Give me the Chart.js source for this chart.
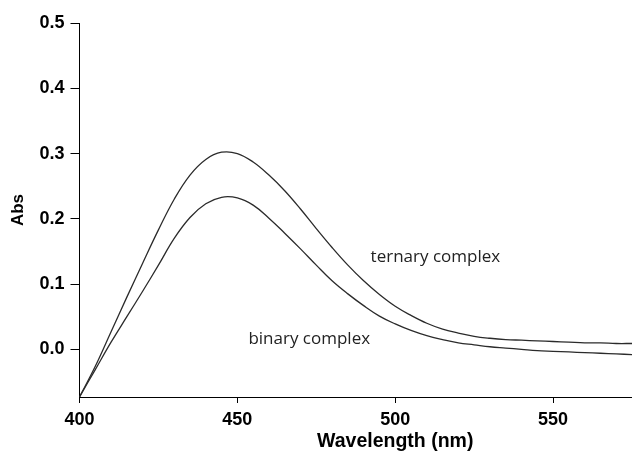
<!DOCTYPE html>
<html>
<head>
<meta charset="utf-8">
<script src="https://cdn.jsdelivr.net/npm/chart.js@4.4.0/dist/chart.umd.min.js"></script>
<style>
    html, body { margin: 0; padding: 0; background: #fff; overflow: hidden; }
    #wrap { width: 632px; height: 451px; }
</style>
</head>
<body>
<div id="wrap"><canvas id="absChart" width="632" height="451"></canvas></div>
<script>
// Spectra (nm, Abs)
const wavelengths = [400, 405, 410, 415, 420, 425, 430, 435, 440, 445, 450, 455, 460, 465, 470, 475, 480, 485, 490, 495,
    500, 505, 510, 515, 520, 525, 530, 535, 540, 545, 550, 555, 560, 565, 570, 575];
const ternaryAbs = [-0.073, -0.026, 0.027, 0.080, 0.132, 0.183, 0.230, 0.267, 0.291, 0.302, 0.300, 0.287, 0.267, 0.243, 0.215, 0.185, 0.156, 0.129, 0.105, 0.084,
    0.066, 0.052, 0.040, 0.031, 0.025, 0.020, 0.017, 0.015, 0.014, 0.013, 0.012, 0.011, 0.010, 0.010, 0.009, 0.009];
const binaryAbs = [-0.073, -0.031, 0.011, 0.050, 0.089, 0.129, 0.170, 0.202, 0.223, 0.233, 0.232, 0.221, 0.201, 0.178, 0.154, 0.129, 0.105, 0.085, 0.067, 0.051,
    0.039, 0.029, 0.021, 0.015, 0.010, 0.007, 0.004, 0.002, 0.000, -0.002, -0.003, -0.004, -0.005, -0.006, -0.007, -0.008];

const xTicks = [400, 450, 500, 550];
const yTicks = [0.0, 0.1, 0.2, 0.3, 0.4, 0.5];

const xTitle = 'Wavelength (nm)';
const yTitle = 'Abs';
const ternaryText = 'ternary complex';
const binaryText = 'binary complex';

const toPoints = (ys) => wavelengths.map((x, i) => ({ x: x, y: ys[i] }));

// curve captions and the x title, placed through the scales
const captionPlugin = {
    id: 'captions',
    afterDraw(chart) {
        const { ctx, scales } = chart;
        const x = scales.x, y = scales.y;
        ctx.save();
        ctx.fillStyle = '#222';
        ctx.textAlign = 'left';
        ctx.textBaseline = 'middle';
        ctx.font = '17px "Open Sans"';
        ctx.fillText(ternaryText, x.getPixelForValue(492.2), y.getPixelForValue(0.141));
        ctx.fillText(binaryText, x.getPixelForValue(453.5), y.getPixelForValue(0.015));

        ctx.fillStyle = '#000';
        ctx.textAlign = 'center';
        ctx.textBaseline = 'alphabetic';
        ctx.font = 'bold 19.5px "Liberation Sans", Arial';
        ctx.fillText(xTitle, x.getPixelForValue(500), 447);
        ctx.restore();
    }
};

const tickFont = { family: '"Liberation Sans", Arial', size: 18, weight: 'bold' };

new Chart(document.getElementById('absChart'), {
    type: 'line',
    data: {
        datasets: [
            {
                label: ternaryText,
                data: toPoints(ternaryAbs),
                borderColor: '#2b2b2b',
                borderWidth: 1.3,
                pointRadius: 0,
                tension: 0.4
            },
            {
                label: binaryText,
                data: toPoints(binaryAbs),
                borderColor: '#2b2b2b',
                borderWidth: 1.3,
                pointRadius: 0,
                tension: 0.4
            }
        ]
    },
    options: {
        responsive: false,
        animation: false,
        layout: { padding: { top: 23, right: 0, left: 0, bottom: 0 } },
        plugins: {
            legend: { display: false },
            tooltip: { enabled: false }
        },
        scales: {
            x: {
                type: 'linear',
                min: 400,
                max: 575,
                afterBuildTicks: (axis) => { axis.ticks = xTicks.map(v => ({ value: v })); },
                afterFit: (axis) => { axis.height = 54; },
                border: { display: true, color: '#000', width: 1 },
                grid: { display: true, drawOnChartArea: false, color: '#000', tickLength: 6 },
                ticks: { color: '#000', font: tickFont, padding: 6, maxRotation: 0 }
            },
            y: {
                type: 'linear',
                min: -0.073,
                max: 0.5,
                afterBuildTicks: (axis) => { axis.ticks = yTicks.map(v => ({ value: v })); },
                afterFit: (axis) => { axis.width = 79.5; },
                border: { display: true, color: '#000', width: 1 },
                grid: { display: true, drawOnChartArea: false, color: '#000', tickLength: 9 },
                ticks: {
                    color: '#000',
                    font: tickFont,
                    padding: 6,
                    callback: (v) => v.toFixed(1)
                },
                title: {
                    display: true,
                    text: yTitle,
                    color: '#000',
                    font: { family: '"Liberation Sans", Arial', size: 17, weight: 'bold' },
                    padding: { top: 8, bottom: 0 }
                }
            }
        }
    },
    plugins: [captionPlugin]
});
</script>
</body>
</html>
